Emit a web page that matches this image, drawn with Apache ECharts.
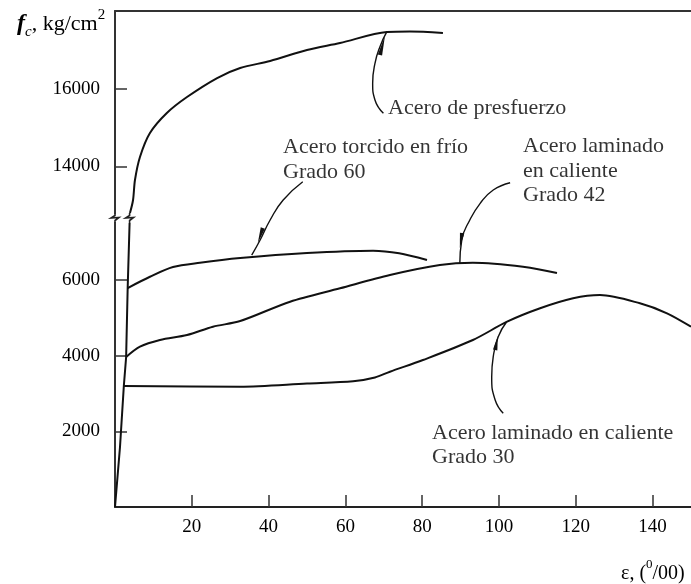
<!DOCTYPE html>
<html><head><meta charset="utf-8">
<script src="https://cdn.jsdelivr.net/npm/echarts@6/dist/echarts.min.js"></script>
<style>html,body{margin:0;padding:0;background:#fff}#c{width:691px;height:584px}</style>
</head><body><div id="c"></div>
<script>
// ---- data (strain in o/oo, stress in kg/cm2) ----
const xTicks = [20, 40, 60, 80, 100, 120, 140];
const lowerTicks = [2000, 4000, 6000];
const upperTicks = [14000, 16000];

const elastic = [[0,0],[1.3,1584],[2.3,3195],[2.9,3961],[3.3,5783],[3.8,7500]];
const presfuerzo = [[3.9,12800],[4.7,13135],[5.2,13650],[6.5,14242],[9.1,14860],[13.5,15375],[18.75,15786],[26.6,16275],[32.6,16533],[40.4,16713],[50,16996],[58.6,17176],[70.8,17459],[76.8,17472],[85.4,17434]];
const grado60 = [[3.3,5783],[9.1,6081],[15.1,6337],[22.1,6451],[32.6,6575],[50,6707],[67.2,6768],[74,6699],[81.25,6522]];
const grado42 = [[2.9,3961],[6.5,4233],[11.7,4410],[18.75,4542],[25.5,4761],[32.6,4910],[45.6,5421],[58.6,5775],[71.6,6126],[84.6,6390],[93.2,6451],[106.25,6345],[115.1,6179]];
const grado30 = [[2.3,3195],[32.6,3177],[50,3260],[62,3320],[67.7,3420],[71.6,3573],[80.2,3882],[93.2,4410],[102.1,4893],[110.7,5247],[119.3,5511],[126.3,5598],[136.7,5379],[143.75,5115],[150,4761]];

// leader lines (annotation arrows)
const leaderPresfuerzo = [[69.9,15367],[67.7,15709],[67.1,16139],[67.7,16654],[69.0,17081],[70.8,17467]];
const leader60 = [[48.9,8590],[43.8,8107],[40.4,7579],[37.8,7050],[35.6,6654]];
const leader42 = [[102.9,8564],[98.5,8371],[95.1,8020],[92.4,7579],[90.3,7050],[89.8,6435]];
const leader30 = [[101.1,2474],[99.0,2825],[98.1,3441],[98.5,3969],[99.8,4497],[102.0,4893]];
// arrowheads: [tailX, tailY, tipX, tipY]
const arrowsUpper = [[69.0,16867,70.3,17356]];
const arrowsLower = [[38.5,7368,37.2,6972],[90.4,7236,89.8,6839],[99.0,4146,99.7,4515]];
// axis-break marks (lower grid top)
const breakMarks = [[0,7500],[3.8,7500]];

// annotation texts
const upperNotes = [
  {name:'Acero de presfuerzo', value:[71.1,15503]},
  {name:'Acero torcido en frío\nGrado 60', value:[43.75,14178]},
  {name:'Acero laminado\nen caliente\nGrado 42', value:[106.25,13882]}
];
const lowerNotes = [
  {name:'Acero laminado en caliente\nGrado 30', value:[82.55,1637]}
];

const FONT = 'Liberation Serif';
const INK = '#000';

const chart = echarts.init(document.getElementById('c'), null, {renderer:'canvas'});

function curve(name, data, xi, smooth) {
  return {type:'line', name, xAxisIndex:xi, yAxisIndex:xi, data, smooth: smooth,
    showSymbol:false, symbol:'none', clip:false, silent:true,
    lineStyle:{color:'#111', width:2}};
}
function leader(data, xi) {
  return {type:'line', xAxisIndex:xi, yAxisIndex:xi, data, smooth:0.5,
    showSymbol:false, symbol:'none', clip:false, silent:true,
    lineStyle:{color:'#111', width:1.4}};
}
function arrows(data, xi) {
  return {type:'custom', xAxisIndex:xi, yAxisIndex:xi, data, clip:false, silent:true,
    encode:{x:[0,2], y:[1,3]},
    renderItem(params, api) {
      const a = api.coord([api.value(0), api.value(1)]);
      const b = api.coord([api.value(2), api.value(3)]);
      const dx=b[0]-a[0], dy=b[1]-a[1], L=Math.hypot(dx,dy)||1;
      const nx=-dy/L, ny=dx/L, w=2.2;
      return {type:'polygon', shape:{points:[b,[a[0]+nx*w,a[1]+ny*w],[a[0]-nx*w,a[1]-ny*w]]},
        style:{fill:'#111'}};
    }};
}
function notes(data, xi) {
  return {type:'scatter', xAxisIndex:xi, yAxisIndex:xi, data, symbolSize:0, silent:true,
    label:{show:true, formatter:'{b}', position:[0,0], align:'left', verticalAlign:'middle',
      fontFamily:FONT, fontSize:22, lineHeight:24.5, color:INK}};
}

const axisLbl = {fontFamily:FONT, fontSize:19, color:INK, formatter: v => String(v)};

chart.setOption({
  animation:false,
  backgroundColor:'#fff',
  title:[
    {left:12, top:3, text:'{i|f}{s|c}{n|, kg/cm}{p|2}',
      textStyle:{fontWeight:'normal', rich:{
        i:{fontFamily:FONT, fontStyle:'italic', fontWeight:'bold', fontSize:24, color:INK, lineHeight:28},
        s:{fontFamily:FONT, fontStyle:'italic', fontWeight:'normal', fontSize:15, color:INK, verticalAlign:'bottom', lineHeight:24},
        n:{fontFamily:FONT, fontWeight:'normal', fontSize:22, color:INK, lineHeight:28},
        p:{fontFamily:FONT, fontWeight:'normal', fontSize:15, color:INK, verticalAlign:'top', lineHeight:32}
      }}},
    {left:616, top:553, text:'{n|ε, (}{p|0}{n|/00)}',
      textStyle:{fontWeight:'normal', rich:{
        n:{fontFamily:FONT, fontWeight:'normal', fontSize:20, color:INK, lineHeight:26},
        p:{fontFamily:FONT, fontWeight:'normal', fontSize:13, color:INK, verticalAlign:'top', lineHeight:32}
      }}}
  ],
  grid:[
    {left:115, right:0, top:11, height:202},
    {left:115, right:0, top:223, height:284}
  ],
  xAxis:[
    {type:'value', gridIndex:0, min:0, max:150, position:'top',
      axisLine:{show:true, lineStyle:{color:'#333', width:2}},
      axisTick:{show:false}, axisLabel:{show:false}, splitLine:{show:false}},
    {type:'value', gridIndex:1, min:0, max:150, position:'bottom',
      axisLine:{show:true, onZero:false, lineStyle:{color:'#222', width:2}},
      axisTick:{show:true, inside:true, length:12, customValues:xTicks, lineStyle:{color:'#333', width:1.5}},
      axisLabel:Object.assign({customValues:xTicks, margin:11}, axisLbl),
      splitLine:{show:false}}
  ],
  yAxis:[
    {type:'value', gridIndex:0, min:12800, max:18000,
      axisLine:{show:true, onZero:false, lineStyle:{color:'#333', width:2}},
      axisTick:{show:true, inside:true, length:12, customValues:upperTicks, lineStyle:{color:'#333', width:1.5}},
      axisLabel:Object.assign({customValues:upperTicks, margin:15}, axisLbl),
      splitLine:{show:false}},
    {type:'value', gridIndex:1, min:0, max:7500,
      axisLine:{show:true, onZero:false, lineStyle:{color:'#333', width:2}},
      axisTick:{show:true, inside:true, length:12, customValues:lowerTicks, lineStyle:{color:'#333', width:1.5}},
      axisLabel:Object.assign({customValues:lowerTicks, margin:15}, axisLbl),
      splitLine:{show:false}}
  ],
  series:[
    curve('Acero de presfuerzo', presfuerzo, 0, 0.3),
    curve('Elástico', elastic, 1, false),
    curve('Acero torcido en frío Grado 60', grado60, 1, 0.3),
    curve('Acero laminado en caliente Grado 42', grado42, 1, 0.3),
    curve('Acero laminado en caliente Grado 30', grado30, 1, 0.3),
    leader(leaderPresfuerzo, 0),
    leader(leader60, 1),
    leader(leader42, 1),
    leader(leader30, 1),
    arrows(arrowsUpper, 0),
    arrows(arrowsLower, 1),
    {type:'custom', xAxisIndex:1, yAxisIndex:1, data:breakMarks, clip:false, silent:true,
      renderItem(params, api) {
        const p = api.coord([api.value(0), api.value(1)]);
        const x=p[0], y=p[1];
        return {type:'polyline', shape:{points:[[x,y-10],[x,y-7.5],[x-4,y-5],[x+4,y-5.5],[x,y-2.5],[x,y]]},
          style:{stroke:'#222', lineWidth:1.6, fill:null}};
      }},
    notes(upperNotes, 0),
    notes(lowerNotes, 1)
  ]
});
</script>
</body></html>
